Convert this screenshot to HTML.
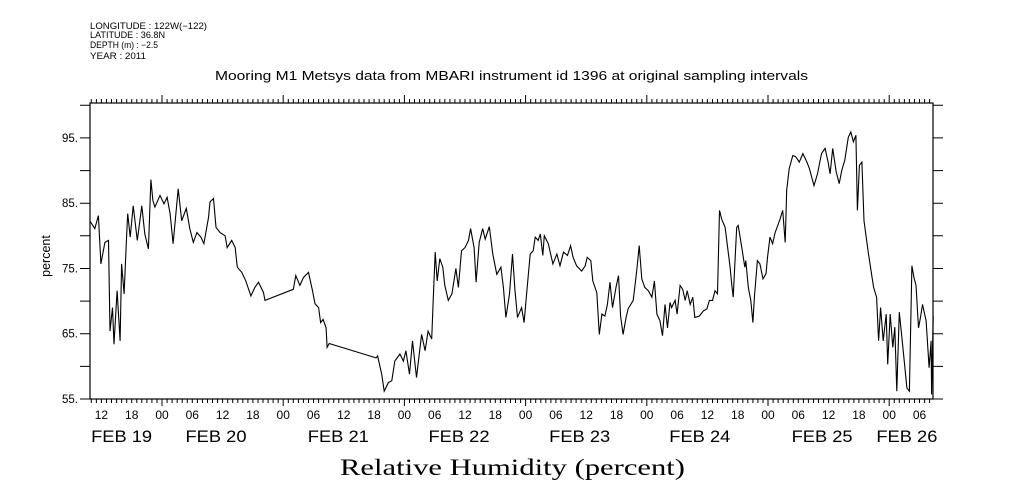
<!DOCTYPE html>
<html><head><meta charset="utf-8"><style>
html,body{margin:0;padding:0;background:#fff;}
svg{display:block;}
text{font-family:"Liberation Sans",sans-serif;fill:#000;}
</style></head><body>
<svg id="chart" width="1009" height="504" viewBox="0 0 1009 504" xmlns="http://www.w3.org/2000/svg">
<g font-size="9">
<text x="90" y="29" textLength="117" lengthAdjust="spacingAndGlyphs">LONGITUDE : 122W(−122)</text>
<text x="90" y="38" textLength="75" lengthAdjust="spacingAndGlyphs">LATITUDE : 36.8N</text>
<text x="90" y="48" textLength="68" lengthAdjust="spacingAndGlyphs">DEPTH (m) : −2.5</text>
<text x="90" y="59" textLength="56" lengthAdjust="spacingAndGlyphs">YEAR : 2011</text>
</g>
<text x="215" y="80" textLength="593" lengthAdjust="spacingAndGlyphs" font-size="13">Mooring M1 Metsys data from MBARI instrument id 1396 at original sampling intervals</text>
<text transform="translate(50,256) rotate(-90)" text-anchor="middle" font-size="12.5">percent</text>
<text x="340" y="475" textLength="345" lengthAdjust="spacingAndGlyphs" font-size="23" style="font-family:'Liberation Serif',serif">Relative Humidity (percent)</text>
<g id="axes"></g>
<g id="series"></g>
</svg>
<script>
const hours = [-14.2,-13.3,-12.6,-12.1,-11.3,-10.6,-10.3,-9.8,-9.5,-8.9,-8.3,-8.0,-7.5,-7.0,-6.8,-6.3,-5.7,-4.9,-4.0,-3.4,-2.7,-2.2,-1.8,-1.4,-0.4,0.4,1.0,1.6,2.2,3.2,3.9,4.8,5.5,6.2,6.9,7.7,8.3,9.2,9.5,10.2,10.7,11.5,12.5,12.9,13.8,14.5,14.9,15.8,16.6,17.6,18.4,19.1,20.1,20.4,
26.0,26.5,27.3,28.0,29.0,29.8,30.3,31.0,31.4,31.9,32.5,32.7,33.1,
42.4,42.7,43.5,44.0,44.8,45.5,46.1,47.1,47.8,48.3,49.0,49.6,50.4,51.4,52.1,52.7,53.4,53.7,54.1,54.5,55.0,55.6,56.0,56.7,57.4,58.2,58.7,59.3,60.0,60.7,61.1,61.8,62.2,62.8,63.5,64.0,64.8,65.5,66.3,67.1,67.6,68.1,68.8,69.4,69.9,70.4,71.2,71.7,72.2,72.9,73.5,73.9,74.5,74.9,75.4,75.7,76.5,77.4,78.2,78.8,79.5,80.3,80.9,81.4,82.1,83.1,83.8,84.2,84.9,85.3,86.1,86.6,87.1,87.7,88.2,88.7,89.2,89.9,90.4,90.8,91.3,91.9,92.3,93.3,94.0,94.5,95.0,95.6,96.3,97.0,97.5,98.0,98.6,99.1,99.6,100.1,100.6,
100.9,101.6,102.0,102.6,103.1,103.6,104.0,104.6,105.1,105.5,106.4,107.2,107.9,108.4,109.0,109.5,110.0,110.4,110.8,111.5,112.5,112.8,113.1,113.8,114.1,114.8,115.4,115.6,116.1,116.6,117.0,117.3,117.9,118.4,119.0,119.6,119.9,120.4,120.9,121.4,121.8,122.4,122.9,123.4,123.7,124.2,124.9,125.5,126.2,126.9,127.7,128.2,129.1,129.8,130.6,131.3,131.9,132.3,132.8,133.5,134.1,134.6,135.2,135.9,136.4,136.9,137.4,137.7,138.1,138.6,139.0,139.9,140.9,141.5,141.9,142.3,142.8,143.4,143.7,144.2,144.7,145.1,145.5,146.0,146.7,147.5,148.0,148.5,148.9,149.3,149.8,150.2,150.6,151.3,151.9,152.3,152.4,152.7];
const humidity = [82.2,81.1,83.1,75.7,79,79.3,65.4,69,63.4,71.6,63.9,75.7,71.1,80.3,83.4,79.8,84.6,79.3,84.6,80.3,78,88.6,85.4,84.4,86.2,84.9,85.9,83.4,78.8,87.2,82.3,84.2,81.1,79,80.5,79.8,78.8,82.8,85.2,85.7,81.3,80.5,80,78.2,79.3,78.2,75.2,74.4,73.1,70.8,72.1,72.9,71.3,70.1,
71.8,73.9,72.4,73.6,74.4,71.6,69.6,69,66.7,67.2,65.9,62.9,63.5,
61.3,61.6,58.8,56.2,57.5,57.8,60.8,61.9,60.8,62.4,58.8,63.9,58.3,64.9,62.4,65.4,64.2,70.1,77.5,73.1,76.5,75.2,72.4,70.1,71.1,75.0,72.1,77.7,78.2,79.3,81.1,78.2,72.9,79,81.1,79.5,81.4,77.2,74.1,75.2,72.1,67.5,71.1,77.2,71.6,67.5,69,66.7,71.1,77.2,77.7,79.8,79.3,80.3,77,80,78.8,75.7,77.2,75.4,77.5,77,78.5,76.7,75.4,74.6,75.4,76.7,76.2,73.1,71.3,64.9,68,67.7,69.5,72.9,69,72.1,73.9,67.7,64.9,67.5,68.8,70.1,74.6,78.5,73.4,72.1,71.6,70.6,73.1,68,67,64.7,69.5,65.9,69.8,
69,70.1,68,72.4,71.8,70.1,71.6,69.5,70.6,67.5,67.7,68.5,68.8,70.1,70.1,71.6,71.1,83.9,82.6,81.3,75.2,72.6,70.6,81.3,81.6,78.2,75.2,76.2,72.1,70.1,66.7,70.6,76.2,75.7,73.4,74.2,76.7,79.8,78.8,80.5,81.3,82.6,83.9,79,87,90.3,92.3,92.1,91.3,92.6,91.3,90.3,87.7,89.5,92.6,93.4,91.3,89.5,93.4,89.8,88,90,91.6,95.1,95.9,94.4,95.4,83.9,90.8,91.3,82.3,77.2,72.1,70.6,63.9,69,63.9,68,60.3,68,62.9,66,56.2,68.3,62.9,56.7,56.2,75.4,73.6,72.4,65.9,67.5,69.5,67,59.8,63.9,55.7,67.7];
const yTickValues = [55,60,65,70,75,80,85,90,95,100];
const yTickLabels = ["55.","","65.","","75.","","85.","","95.",""];
const dateLabels = ["FEB 19","FEB 20","FEB 21","FEB 22","FEB 23","FEB 24","FEB 25","FEB 26"];
const dateLabelHours = [-8,10.7,34.9,58.8,82.7,106.5,130.7,147.5];

const NS = "http://www.w3.org/2000/svg";
const L=90,R=933,T=103,B=399;
const H0=-14.26,H1=152.67,Y0=55,Y1=100.35;
function xs(h){return L+(h-H0)/(H1-H0)*(R-L);}
function ys(v){return B-(v-Y0)/(Y1-Y0)*(B-T);}
function mk(tag,attrs,parent){const e=document.createElementNS(NS,tag);for(const k in attrs)e.setAttribute(k,attrs[k]);parent.appendChild(e);return e;}
const axes=document.getElementById('axes');
const frame=mk('rect',{x:L,y:T,width:R-L,height:B-T,fill:'none',stroke:'#000','stroke-width':1.2},axes);


let tp='';
for(let h=Math.ceil(H0);h<=H1;h++){
  const x=xs(h).toFixed(1);
  const hr=((h%24)+24)%24;
  const big=hr===0;
  tp+=`M${x},${B}v${big?7:4}M${x},${T}v${big?-8:-4}`;
  if(hr%6===0){
    const t=mk('text',{x:x,y:419,'text-anchor':'middle','font-size':12},axes);
    t.textContent=String(hr).padStart(2,'0');
    
    
  }
}
yTickValues.forEach((v,i)=>{
  const y=ys(v).toFixed(1);
  tp+=`M${L},${y}h-10M${R},${y}h10`;
  if(yTickLabels[i]){
    const t=mk('text',{x:78,y:+y+4,'text-anchor':'end','font-size':11.5},axes);
    t.textContent=yTickLabels[i];
    
    
  }
});
const ticks=mk('path',{d:tp,stroke:'#000','stroke-width':1,fill:'none'},axes);


dateLabels.forEach((s,i)=>{
  const cx=xs(dateLabelHours[i]);
  const t=mk('text',{x:(cx-30.5).toFixed(1),y:442,'font-size':16.5,textLength:61,lengthAdjust:'spacingAndGlyphs'},axes);
  t.textContent=s;
  
  
});
let d='';
hours.forEach((h,i)=>{d+=(i?'L':'M')+xs(h).toFixed(1)+','+ys(humidity[i]).toFixed(1);});
const line=mk('path',{d:d,stroke:'#000','stroke-width':1.1,fill:'none','stroke-linejoin':'miter'},document.getElementById('series'));


</script>
</body></html>
